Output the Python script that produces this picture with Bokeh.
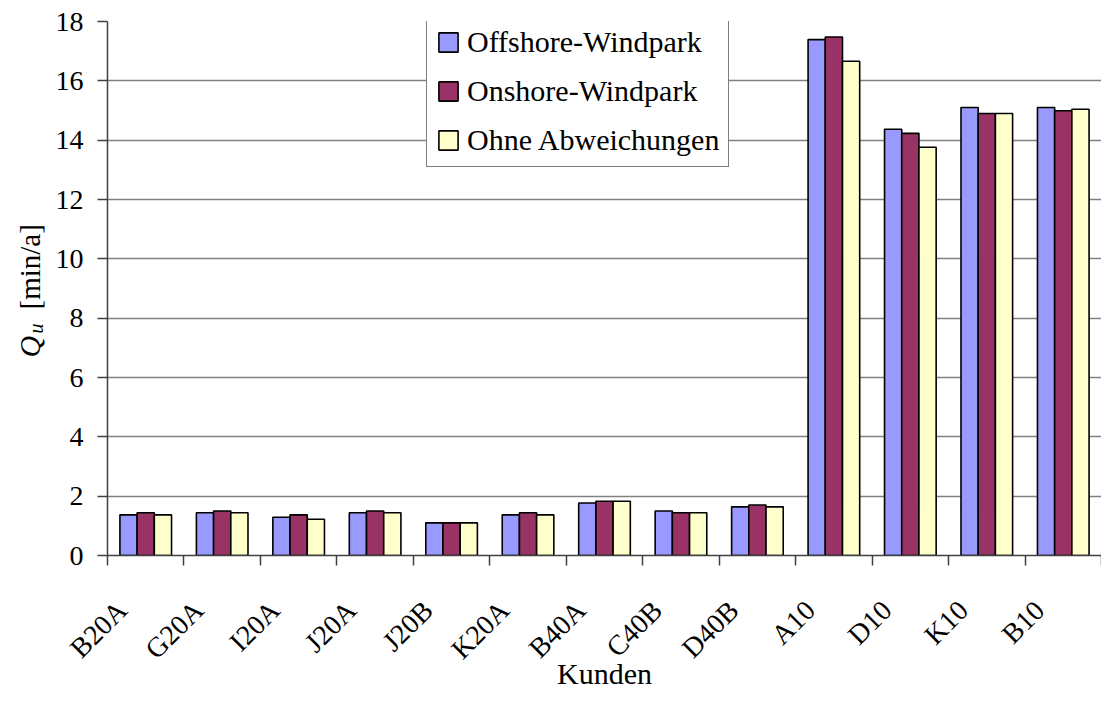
import numpy as np
from bokeh.plotting import figure
from bokeh.layouts import row
from bokeh.models import ColumnDataSource, FixedTicker, Range1d
from bokeh.transform import dodge
from bokeh.core.properties import value
from bokeh.embed import file_html
from bokeh.resources import INLINE

# ---- data ----
categories = ["B20A", "G20A", "I20A", "J20A", "J20B", "K20A", "B40A",
              "C40B", "D40B", "A10", "D10", "K10", "B10"]
offshore = [1.37, 1.44, 1.29, 1.44, 1.10, 1.37, 1.77, 1.50, 1.64, 17.39, 14.37, 15.10, 15.10]
onshore  = [1.44, 1.50, 1.37, 1.50, 1.10, 1.44, 1.83, 1.44, 1.70, 17.48, 14.23, 14.90, 14.99]
ohne     = [1.37, 1.44, 1.22, 1.44, 1.10, 1.37, 1.83, 1.44, 1.64, 16.66, 13.76, 14.90, 15.04]
series_names = ["Offshore-Windpark", "Onshore-Windpark", "Ohne Abweichungen"]
y_ticks = [0, 2, 4, 6, 8, 10, 12, 14, 16, 18]

colors = ["#9999FF", "#993366", "#FFFFCC"]
FONT = "Liberation Serif"
FS = "28px"

W, H = 1101, 693
LEFT_W = 50
FRAME_L = 107
TOP, BOTTOM = 21, 555          # frame top / bottom in page pixels
YMAX = 18

n = len(categories)
centers = [i + 0.5 for i in range(n)]
label_pos = [c - 0.31 for c in centers]
src = ColumnDataSource(dict(x=centers, off=offshore, on=onshore, oh=ohne))

p = figure(width=W - LEFT_W, height=H, output_backend="svg", toolbar_location=None,
           x_range=Range1d(0, n), y_range=Range1d(0, YMAX),
           min_border_left=FRAME_L - LEFT_W, min_border_right=0, min_border_top=TOP,
           min_border_bottom=H - BOTTOM, frame_align=False)
p.outline_line_color = None
p.background_fill_color = "white"
p.border_fill_color = "white"

bw = 0.225
for key, off, col, name in zip(["off", "on", "oh"], [-bw, 0, bw], colors, series_names):
    p.vbar(x=dodge("x", off), top=key, width=bw, bottom=0, source=src,
           fill_color=col, line_color="black", line_width=1.6, legend_label=name)

# x axis
p.xaxis.ticker = FixedTicker(ticks=label_pos, minor_ticks=list(range(n + 1)))
p.xaxis.major_label_overrides = {c: lab for c, lab in zip(label_pos, categories)}
p.xaxis.major_tick_line_color = None
p.xaxis.major_tick_out = 0
p.xaxis.major_tick_in = 0
p.xaxis.minor_tick_out = 10
p.xaxis.minor_tick_in = 0
p.xaxis.minor_tick_line_color = "#404040"
p.xaxis.minor_tick_line_width = 1.5
p.xaxis.major_label_orientation = np.pi / 4
p.xaxis.major_label_text_font = FONT
p.xaxis.major_label_text_font_size = FS
p.xaxis.major_label_text_color = "black"
p.xaxis.major_label_standoff = 40
p.xaxis.axis_line_color = "#404040"
p.xaxis.axis_line_width = 1.5
p.xaxis.axis_label = "Kunden"
p.xaxis.axis_label_text_font = FONT
p.xaxis.axis_label_text_font_size = "30px"
p.xaxis.axis_label_text_font_style = "normal"
p.xaxis.axis_label_text_color = "black"
p.xaxis.axis_label_standoff = -22
p.xgrid.visible = False

# y axis
p.yaxis.ticker = FixedTicker(ticks=y_ticks)
p.yaxis.major_tick_out = 10
p.yaxis.major_tick_in = 0
p.yaxis.minor_tick_line_color = None
p.yaxis.major_tick_line_color = "#404040"
p.yaxis.major_tick_line_width = 1.5
p.yaxis.axis_line_color = "#404040"
p.yaxis.axis_line_width = 1.5
p.yaxis.major_label_text_font = FONT
p.yaxis.major_label_text_font_size = FS
p.yaxis.major_label_text_color = "black"
p.yaxis.major_label_standoff = 14
p.ygrid.grid_line_color = "#808080"
p.ygrid.grid_line_width = 1.5

# legend
lg = p.legend[0]
lg.location = (319, 388)
lg.label_text_font = FONT
lg.label_text_font_size = "30px"
lg.label_text_color = "black"
lg.glyph_width = 24
lg.glyph_height = 24
lg.label_standoff = 7
lg.label_height = 32
lg.spacing = 15
lg.padding = 9
lg.margin = 0
lg.border_line_color = "black"
lg.border_line_width = 1
lg.background_fill_color = "white"
lg.background_fill_alpha = 1

# y axis title (Q_u [min/a]) in a narrow side panel without axes
pl = figure(width=LEFT_W, height=H, output_backend="svg", toolbar_location=None,
            x_range=Range1d(0, LEFT_W), y_range=Range1d(0, YMAX),
            x_axis_location=None, y_axis_location=None,
            min_border_left=0, min_border_right=0, min_border_top=TOP,
            min_border_bottom=H - BOTTOM, frame_align=False)
pl.grid.visible = False
pl.outline_line_color = None
pl.border_fill_color = "white"
pl.background_fill_color = "white"

def yv(sy):
    return (BOTTOM - sy) * YMAX / (BOTTOM - TOP)

pl.text(x=[29], y=[yv(357)], text=["Q"], angle=np.pi / 2,
        text_font=value(FONT), text_font_size="30px", text_font_style="italic",
        text_baseline="alphabetic", text_align="left", text_color="black")
pl.text(x=[35], y=[yv(333)], text=["u"], angle=np.pi / 2,
        text_font=value(FONT), text_font_size="20px", text_font_style="italic",
        text_baseline="alphabetic", text_align="left", text_color="black")
pl.text(x=[29], y=[yv(309)], text=["[min/a]"], angle=np.pi / 2,
        text_font=value(FONT), text_font_size="29px",
        text_baseline="alphabetic", text_align="left", text_color="black")

layout = row(pl, p)
open("out.html", "w").write(file_html(layout, INLINE))
